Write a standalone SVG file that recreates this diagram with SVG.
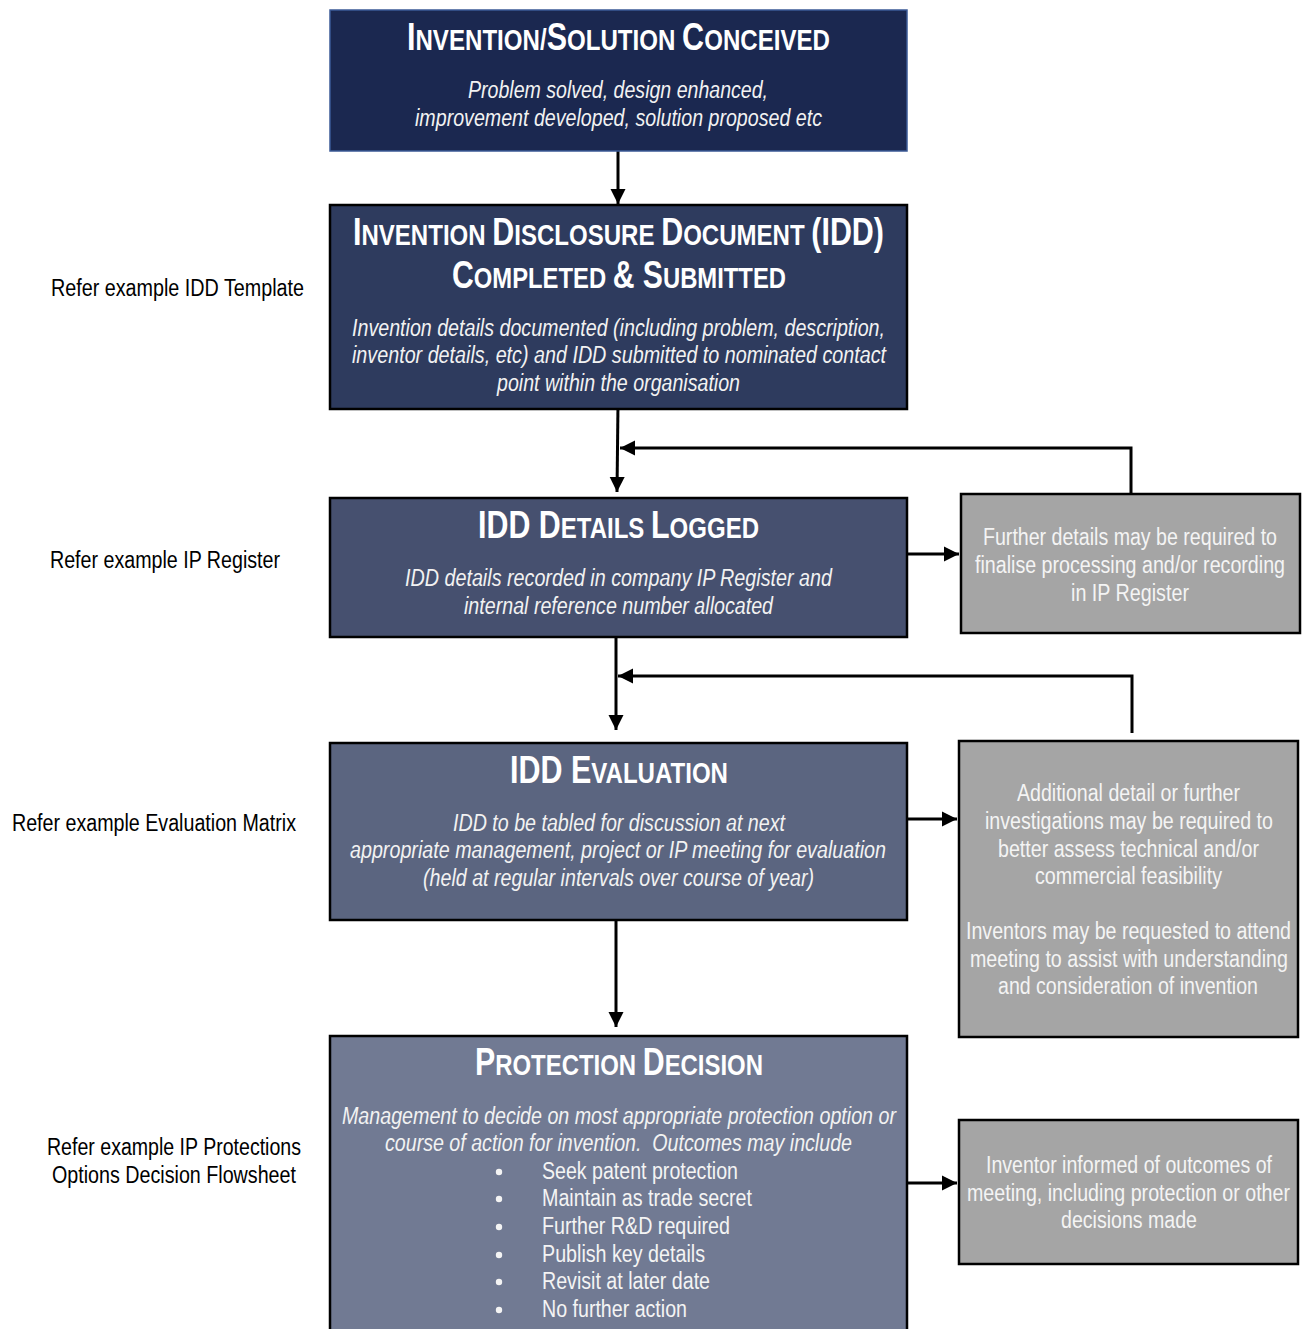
<svg xmlns="http://www.w3.org/2000/svg" width="1304" height="1329" viewBox="0 0 1304 1329">
<style>
text{font-family:"Liberation Sans Narrow","Arial Narrow","Liberation Sans",Arial,sans-serif;}
.t{fill:#ffffff;font-weight:bold;font-size:30px;text-anchor:middle;}
.t .b{font-size:38px;}
.i{fill:#f2f2f2;font-style:italic;font-size:23px;text-anchor:middle;}
.g{fill:#f4f4f4;font-size:23px;text-anchor:middle;}
.w{fill:#f4f4f4;font-size:23px;}
.l{fill:#000000;font-size:23px;text-anchor:middle;}
.box{stroke:#000;stroke-width:2.5;}
.grey{fill:#a5a5a5;stroke:#000;stroke-width:2.5;}
.c{fill:none;stroke:#000;stroke-width:3;}
</style>
<defs>
<marker id="ah" markerUnits="userSpaceOnUse" markerWidth="16" markerHeight="16" viewBox="0 0 16 16" refX="15" refY="8" orient="auto">
<path d="M0,0.5 L15,8 L0,15.5 Z" fill="#000"/>
</marker>
</defs>

<g id="connectors">
<path class="c" d="M618,151 L618,204" marker-end="url(#ah)"/>
<path class="c" d="M618,404 L617,492" marker-end="url(#ah)"/>
<path class="c" d="M1131,494 L1131,448 L620,448" marker-end="url(#ah)"/>
<path class="c" d="M907,554 L959,554" marker-end="url(#ah)"/>
<path class="c" d="M616,636 L616,730" marker-end="url(#ah)"/>
<path class="c" d="M1132,733 L1132,676 L618,676" marker-end="url(#ah)"/>
<path class="c" d="M907,819 L957,819" marker-end="url(#ah)"/>
<path class="c" d="M616,910 L616,1027" marker-end="url(#ah)"/>
<path class="c" d="M907,1183 L957,1183" marker-end="url(#ah)"/>
</g>

<g id="n1">
<rect x="330" y="10" width="577" height="141" fill="#1b2850" stroke="#3b5a96" stroke-width="1.5"/>
<g transform="scale(0.78,1)">
<text class="t" x="792.95" y="50" textLength="542.31" lengthAdjust="spacingAndGlyphs"><tspan class="b">I</tspan>NVENTION/<tspan class="b">S</tspan>OLUTION <tspan class="b">C</tspan>ONCEIVED</text>
</g>
<g transform="scale(0.82,1)">
<text class="i" x="753.66" y="98" textLength="365.85" lengthAdjust="spacingAndGlyphs">Problem solved, design enhanced,</text>
<text class="i" x="754.27" y="126" textLength="496.34" lengthAdjust="spacingAndGlyphs">improvement developed, solution proposed etc</text>
</g>
</g>

<g id="n2">
<rect class="box" x="330" y="205" width="577" height="204" fill="#2e3b5e"/>
<g transform="scale(0.78,1)">
<text class="t" x="792.95" y="245" textLength="680.77" lengthAdjust="spacingAndGlyphs"><tspan class="b">I</tspan>NVENTION <tspan class="b">D</tspan>ISCLOSURE <tspan class="b">D</tspan>OCUMENT <tspan class="b">(IDD)</tspan></text>
<text class="t" x="793.59" y="288" textLength="428.21" lengthAdjust="spacingAndGlyphs"><tspan class="b">C</tspan>OMPLETED <tspan class="b">&amp; S</tspan>UBMITTED</text>
</g>
<g transform="scale(0.82,1)">
<text class="i" x="754.27" y="336" textLength="650" lengthAdjust="spacingAndGlyphs">Invention details documented (including problem, description,</text>
<text class="i" x="754.88" y="363" textLength="651.22" lengthAdjust="spacingAndGlyphs">inventor details, etc) and IDD submitted to nominated contact</text>
<text class="i" x="754.27" y="391" textLength="296.34" lengthAdjust="spacingAndGlyphs">point within the organisation</text>
</g>
</g>

<g id="n3">
<rect class="box" x="330" y="498" width="577" height="139" fill="#46506f"/>
<g transform="scale(0.78,1)">
<text class="t" x="792.95" y="538" textLength="360.26" lengthAdjust="spacingAndGlyphs"><tspan class="b">IDD D</tspan>ETAILS <tspan class="b">L</tspan>OGGED</text>
</g>
<g transform="scale(0.82,1)">
<text class="i" x="754.27" y="586" textLength="520.73" lengthAdjust="spacingAndGlyphs">IDD details recorded in company IP Register and</text>
<text class="i" x="754.27" y="614" textLength="376.83" lengthAdjust="spacingAndGlyphs">internal reference number allocated</text>
</g>
</g>

<g id="n3b">
<rect class="grey" x="961" y="494" width="339" height="139"/>
<g transform="scale(0.82,1)">
<text class="g" x="1378.05" y="545" textLength="358.54" lengthAdjust="spacingAndGlyphs">Further details may be required to</text>
<text class="g" x="1378.05" y="573" textLength="378.05" lengthAdjust="spacingAndGlyphs">finalise processing and/or recording</text>
<text class="g" x="1378.05" y="601" textLength="143.9" lengthAdjust="spacingAndGlyphs">in IP Register</text>
</g>
</g>

<g id="n4">
<rect class="box" x="330" y="743" width="577" height="177" fill="#5b6580"/>
<g transform="scale(0.78,1)">
<text class="t" x="793.59" y="783" textLength="279.49" lengthAdjust="spacingAndGlyphs"><tspan class="b">IDD E</tspan>VALUATION</text>
</g>
<g transform="scale(0.82,1)">
<text class="i" x="754.88" y="831" textLength="404.88" lengthAdjust="spacingAndGlyphs">IDD to be tabled for discussion at next</text>
<text class="i" x="753.66" y="858" textLength="653.66" lengthAdjust="spacingAndGlyphs">appropriate management, project or IP meeting for evaluation</text>
<text class="i" x="754.27" y="886" textLength="476.83" lengthAdjust="spacingAndGlyphs">(held at regular intervals over course of year)</text>
</g>
</g>

<g id="n4b">
<rect class="grey" x="959" y="741" width="339" height="296"/>
<g transform="scale(0.82,1)">
<text class="g" x="1376.22" y="801" textLength="271.95" lengthAdjust="spacingAndGlyphs">Additional detail or further</text>
<text class="g" x="1376.83" y="829" textLength="351.22" lengthAdjust="spacingAndGlyphs">investigations may be required to</text>
<text class="g" x="1376.22" y="857" textLength="318.29" lengthAdjust="spacingAndGlyphs">better assess technical and/or</text>
<text class="g" x="1376.22" y="884" textLength="228.05" lengthAdjust="spacingAndGlyphs">commercial feasibility</text>
<text class="g" x="1376.22" y="939" textLength="396.34" lengthAdjust="spacingAndGlyphs">Inventors may be requested to attend</text>
<text class="g" x="1376.83" y="967" textLength="387.8" lengthAdjust="spacingAndGlyphs">meeting to assist with understanding</text>
<text class="g" x="1375.61" y="994" textLength="317.07" lengthAdjust="spacingAndGlyphs">and consideration of invention</text>
</g>
</g>

<g id="n5">
<rect class="box" x="330" y="1036" width="577" height="300" fill="#717a93"/>
<g fill="#f4f4f4">
<circle cx="499" cy="1172" r="3.2"/>
<circle cx="499" cy="1199" r="3.2"/>
<circle cx="499" cy="1227" r="3.2"/>
<circle cx="499" cy="1255" r="3.2"/>
<circle cx="499" cy="1282" r="3.2"/>
<circle cx="499" cy="1310" r="3.2"/>
</g>
<g transform="scale(0.78,1)">
<text class="t" x="793.59" y="1075" textLength="369.23" lengthAdjust="spacingAndGlyphs"><tspan class="b">P</tspan>ROTECTION <tspan class="b">D</tspan>ECISION</text>
</g>
<g transform="scale(0.82,1)">
<text class="i" x="754.88" y="1124" textLength="675.61" lengthAdjust="spacingAndGlyphs">Management to decide on most appropriate protection option or</text>
<text class="i" x="754.27" y="1151" textLength="569.51" lengthAdjust="spacingAndGlyphs">course of action for invention.&#160; Outcomes may include</text>
<text class="w" x="660.98" y="1179" textLength="239.02" lengthAdjust="spacingAndGlyphs">Seek patent protection</text>
<text class="w" x="660.98" y="1206" textLength="256.1" lengthAdjust="spacingAndGlyphs">Maintain as trade secret</text>
<text class="w" x="660.98" y="1234" textLength="229.27" lengthAdjust="spacingAndGlyphs">Further R&amp;D required</text>
<text class="w" x="660.98" y="1262" textLength="198.78" lengthAdjust="spacingAndGlyphs">Publish key details</text>
<text class="w" x="660.98" y="1289" textLength="204.88" lengthAdjust="spacingAndGlyphs">Revisit at later date</text>
<text class="w" x="660.98" y="1317" textLength="176.83" lengthAdjust="spacingAndGlyphs">No further action</text>
</g>
</g>

<g id="n5b">
<rect class="grey" x="959" y="1120" width="339" height="144"/>
<g transform="scale(0.82,1)">
<text class="g" x="1376.83" y="1173" textLength="348.78" lengthAdjust="spacingAndGlyphs">Inventor informed of outcomes of</text>
<text class="g" x="1376.22" y="1201" textLength="393.9" lengthAdjust="spacingAndGlyphs">meeting, including protection or other</text>
<text class="g" x="1376.83" y="1228" textLength="165.85" lengthAdjust="spacingAndGlyphs">decisions made</text>
</g>
</g>

<g id="labels" transform="scale(0.82,1)">
<text class="l" x="216.46" y="296" textLength="308.54" lengthAdjust="spacingAndGlyphs">Refer example IDD Template</text>
<text class="l" x="201.22" y="568" textLength="280.49" lengthAdjust="spacingAndGlyphs">Refer example IP Register</text>
<text class="l" x="187.8" y="831" textLength="346.34" lengthAdjust="spacingAndGlyphs">Refer example Evaluation Matrix</text>
<text class="l" x="212.2" y="1155" textLength="309.76" lengthAdjust="spacingAndGlyphs">Refer example IP Protections</text>
<text class="l" x="212.2" y="1183" textLength="297.56" lengthAdjust="spacingAndGlyphs">Options Decision Flowsheet</text>
</g>
</svg>
